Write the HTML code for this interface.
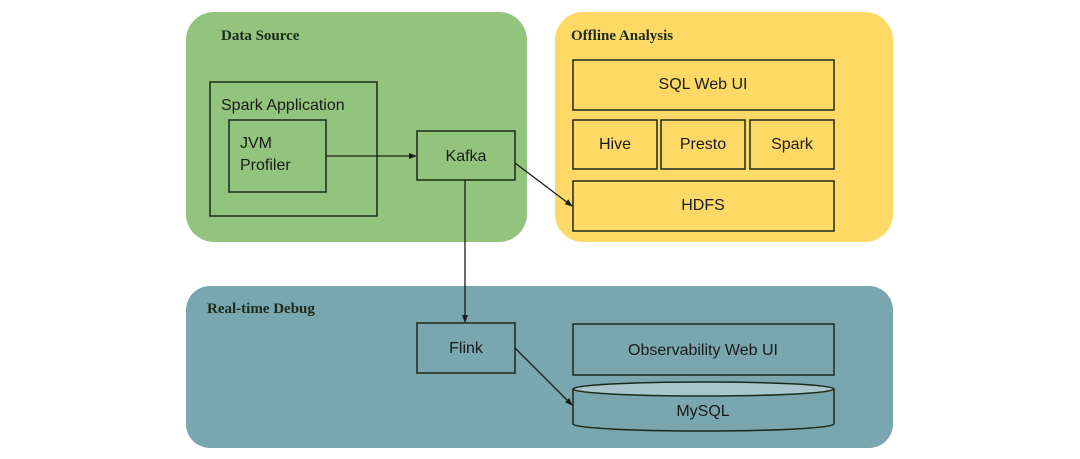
<!DOCTYPE html>
<html><head><meta charset="utf-8"><style>
html,body{margin:0;padding:0;background:#fff;}
svg{display:block;}
.t{font-family:"Liberation Serif",serif;font-weight:bold;font-size:15px;fill:#1c2a1c;}
.l{font-family:"Liberation Sans",sans-serif;font-size:16px;fill:#1a1a1a;}
.b{fill:none;stroke:#1a2a1a;stroke-width:1.5;}
</style></head><body>
<svg width="1080" height="459" viewBox="0 0 1080 459" xmlns="http://www.w3.org/2000/svg">
<defs><marker id="a" markerWidth="8" markerHeight="8" refX="7" refY="4" orient="auto" markerUnits="userSpaceOnUse"><path d="M0,1 L8,4 L0,7z" fill="#1a1a1a"/></marker></defs>
<rect x="186" y="12" width="341" height="230" rx="28" fill="#93c47d"/>
<rect x="555" y="12" width="338" height="230" rx="28" fill="#ffd966"/>
<rect x="186" y="286" width="707" height="162" rx="24" fill="#79a6af"/>
<text class="t" x="221" y="40">Data Source</text>
<text class="t" x="571" y="40">Offline Analysis</text>
<text class="t" x="207" y="313">Real-time Debug</text>
<rect class="b" x="210" y="82" width="167" height="134"/>
<text class="l" x="221" y="110">Spark Application</text>
<rect class="b" x="229" y="120" width="97" height="72"/>
<text class="l" x="240" y="148">JVM</text>
<text class="l" x="240" y="170">Profiler</text>
<rect class="b" x="417" y="131" width="98" height="49"/>
<text class="l" x="466" y="161" text-anchor="middle">Kafka</text>
<rect class="b" x="573" y="60" width="261" height="50"/>
<text class="l" x="703" y="89" text-anchor="middle">SQL Web UI</text>
<rect class="b" x="573" y="120" width="84" height="49"/>
<text class="l" x="615" y="149" text-anchor="middle">Hive</text>
<rect class="b" x="661" y="120" width="84" height="49"/>
<text class="l" x="703" y="149" text-anchor="middle">Presto</text>
<rect class="b" x="750" y="120" width="84" height="49"/>
<text class="l" x="792" y="149" text-anchor="middle">Spark</text>
<rect class="b" x="573" y="181" width="261" height="50"/>
<text class="l" x="703" y="210" text-anchor="middle">HDFS</text>
<rect class="b" x="417" y="323" width="98" height="50"/>
<text class="l" x="466" y="353" text-anchor="middle">Flink</text>
<rect class="b" x="573" y="324" width="261" height="51"/>
<text class="l" x="703" y="355" text-anchor="middle">Observability Web UI</text>
<path d="M573,389 L573,424 A130.5,7 0 0 0 834,424 L834,389" fill="#79a6af" stroke="#1a2a1a" stroke-width="1.5"/>
<ellipse cx="703.5" cy="389" rx="130.5" ry="7" fill="#a9c6cc" stroke="#1a2a1a" stroke-width="1.5"/>
<text class="l" x="703" y="416" text-anchor="middle">MySQL</text>
<g stroke="#1a1a1a" stroke-width="1.3" fill="none">
<line x1="326" y1="156" x2="416" y2="156" marker-end="url(#a)"/>
<line x1="515" y1="163" x2="572" y2="206" marker-end="url(#a)"/>
<line x1="465" y1="180" x2="465" y2="322" marker-end="url(#a)"/>
<line x1="515" y1="348" x2="572" y2="405" marker-end="url(#a)"/>
</g>
</svg>
</body></html>
